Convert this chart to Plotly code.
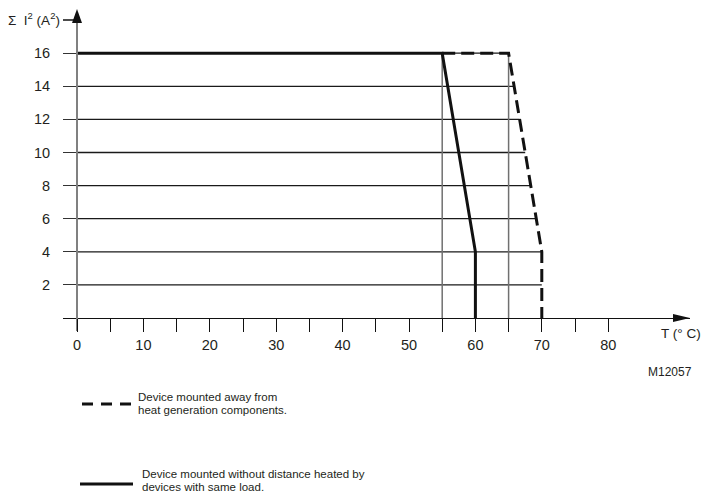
import numpy as np
import plotly.graph_objects as go

# ---------------- data ----------------
solid_T = [0, 55, 60, 60]
solid_I2 = [16, 16, 4, 0]
dashed_T = [55, 65, 70, 70]
dashed_I2 = [16, 16, 4, 0]
x_major_ticks = [0, 10, 20, 30, 40, 50, 60, 70, 80]
x_minor_ticks = [5, 15, 25, 35, 45, 55, 65, 75]
y_ticks = [2, 4, 6, 8, 10, 12, 14, 16]
x_title = "T (° C)"
y_title = "Σ  I<sup>2</sup> (A<sup>2</sup>)"
legend_dashed = ["Device mounted away from", "heat generation components."]
legend_solid = ["Device mounted without distance heated by", "devices with same load."]
code_label = "M12057"

# ---------------- geometry / style ----------------
# the page body has an 8px margin, so the figure is 8px smaller and all
# reference pixel positions are shifted accordingly
OFF = 8
W, H = 710 - OFF, 497 - OFF
FONT = "Liberation Sans, Arial, Helvetica, sans-serif"
TXT = "#231f20"


def px(xpix):
    return (xpix - OFF) / W


def py(ypix):
    return 1 - (ypix - OFF) / H


X0_PIX, X_SCALE = 77, 6.64
Y0_PIX, Y_SCALE = 318, 16.55
x_dom = (63, 690)
y_dom = (331, 14)
xrange = [(x_dom[0] - X0_PIX) / X_SCALE, (x_dom[1] - X0_PIX) / X_SCALE]
yrange = [(Y0_PIX - y_dom[0]) / Y_SCALE, (Y0_PIX - y_dom[1]) / Y_SCALE]

fig = go.Figure()

# horizontal grid lines, ending at the dashed limit curve
bT = dashed_T[1:][::-1]
bI = dashed_I2[1:][::-1]
gx, gy = [], []
for yv in y_ticks:
    xe = float(np.interp(yv, bI, bT))
    gx += [0, xe, None]
    gy += [yv, yv, None]
fig.add_trace(go.Scatter(x=gx, y=gy, mode="lines",
                         line=dict(color="#1a1a1a", width=1.3),
                         hoverinfo="skip", showlegend=False))

# vertical drop lines at the knees
vx, vy = [], []
for t in (solid_T[1], dashed_T[1]):
    vx += [t, t, None]
    vy += [0, solid_I2[1], None]
fig.add_trace(go.Scatter(x=vx, y=vy, mode="lines",
                         line=dict(color="#707070", width=1.5),
                         hoverinfo="skip", showlegend=False))

# curves
fig.add_trace(go.Scatter(x=dashed_T, y=dashed_I2, mode="lines",
                         line=dict(color="#111111", width=3, dash="13px,6px"),
                         name=" ".join(legend_dashed), showlegend=False))
fig.add_trace(go.Scatter(x=solid_T, y=solid_I2, mode="lines",
                         line=dict(color="#111111", width=3),
                         name=" ".join(legend_solid), showlegend=False))

tickfont = dict(family=FONT, size=14.5, color=TXT)

fig.update_layout(
    width=W, height=H,
    margin=dict(l=0, r=0, t=0, b=0),
    paper_bgcolor="white", plot_bgcolor="white",
    showlegend=False,
    xaxis=dict(
        domain=[px(x_dom[0]), px(x_dom[1])], range=xrange,
        anchor="free", position=py(Y0_PIX),
        showgrid=False, zeroline=False,
        showline=True, linecolor="#111111", linewidth=1.3,
        tickmode="array", tickvals=x_major_ticks,
        ticktext=[str(v) for v in x_major_ticks],
        ticks="outside", ticklen=13, tickwidth=1.3, tickcolor="#111111",
        tickfont=tickfont,
        minor=dict(tickmode="array", tickvals=x_minor_ticks, ticks="outside",
                   ticklen=13, tickwidth=1.3, tickcolor="#111111"),
    ),
    yaxis=dict(
        domain=[py(y_dom[0]), py(y_dom[1])], range=yrange,
        anchor="free", position=px(X0_PIX),
        showgrid=False, zeroline=False,
        showline=True, linecolor="#808080", linewidth=2,
        tickmode="array", tickvals=y_ticks,
        ticktext=[str(v) for v in y_ticks],
        ticks="outside", ticklen=13, tickwidth=1.3, tickcolor="#333333",
        tickfont=tickfont, ticklabelstandoff=10,
    ),
)

shapes = []
# x-axis arrowhead
shapes.append(dict(type="path", xref="paper", yref="paper",
                   path=f"M {px(673)},{py(314)} L {px(690)},{py(318)} L {px(673)},{py(322)} Z",
                   fillcolor="#111111", line=dict(width=0)))
# y-axis arrowhead
shapes.append(dict(type="path", xref="paper", yref="paper",
                   path=f"M {px(72)},{py(23)} L {px(77)},{py(9)} L {px(82)},{py(23)} Z",
                   fillcolor="#111111", line=dict(width=0)))
# dash from y title to axis
shapes.append(dict(type="line", xref="paper", yref="paper",
                   x0=px(63), x1=px(76), y0=py(20), y1=py(20),
                   line=dict(color="#111111", width=1.5)))
# legend samples
shapes.append(dict(type="line", xref="paper", yref="paper",
                   x0=px(82), x1=px(132), y0=py(404), y1=py(404),
                   line=dict(color="#111111", width=3, dash="11px,8px")))
shapes.append(dict(type="line", xref="paper", yref="paper",
                   x0=px(80), x1=px(133), y0=py(484), y1=py(484),
                   line=dict(color="#111111", width=3)))
fig.update_layout(shapes=shapes)


def ann(text, x, y, xanchor="center", size=11.5):
    fig.add_annotation(text=text, x=px(x), y=py(y), xref="paper", yref="paper",
                       xanchor=xanchor, yanchor="middle", showarrow=False,
                       font=dict(family=FONT, size=size, color=TXT))


ann(y_title, 62, 19, xanchor="right", size=13.5)
ann(x_title, 681, 333, size=13.5)
ann(code_label, 670, 372, size=12)
ann(legend_dashed[0], 136, 397, xanchor="left")
ann(legend_dashed[1], 136, 410, xanchor="left")
ann(legend_solid[0], 140, 474, xanchor="left")
ann(legend_solid[1], 140, 487, xanchor="left")

fig.write_html("out.html")
